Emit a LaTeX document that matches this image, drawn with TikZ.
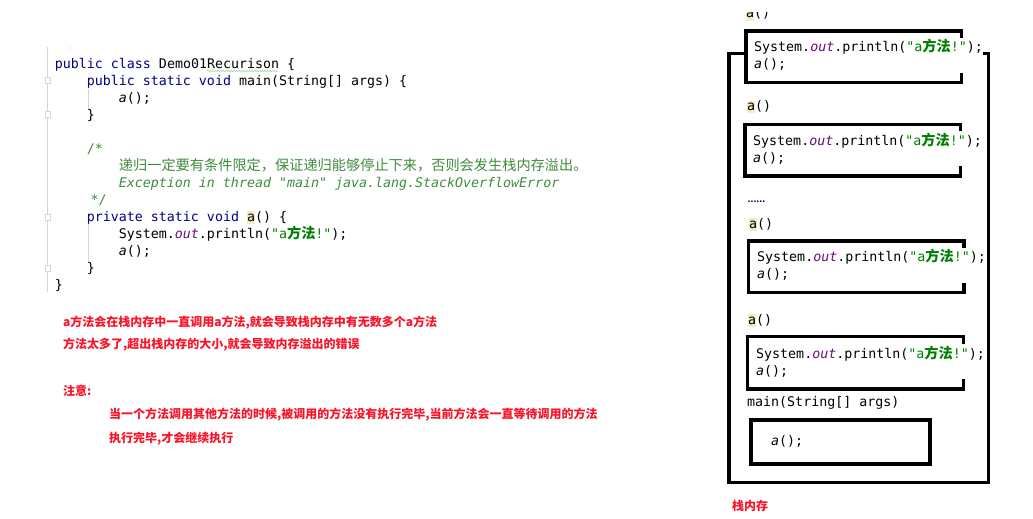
\documentclass[tikz,border=0pt]{standalone}
\usepackage{fontspec}
\usetikzlibrary{decorations.pathmorphing}
\setmonofont{DejaVu Sans Mono}
\newfontfamily\cjk{Noto Sans CJK SC}
\newfontfamily\latinsans{Liberation Sans}
\definecolor{kw}{RGB}{0,0,128}
\definecolor{cmt}{RGB}{63,140,63}
\definecolor{strg}{RGB}{0,128,0}
\definecolor{fld}{RGB}{102,14,122}
\definecolor{hl}{RGB}{245,234,196}
\definecolor{myred}{RGB}{250,20,40}
\definecolor{gut}{RGB}{215,215,215}
\newcommand\codefont{\ttfamily\fontsize{13.3}{17}\selectfont}
\newcommand\kw[1]{\textcolor{kw}{#1}}
\newcommand\cjkstr{\textcolor{strg}{"a{\cjk\bfseries\fontsize{14.2}{17}\selectfont 方法}!"}}
\newcommand\outf{\textcolor{fld}{\itshape out}}
\newcommand\prtln{System.\outf.println(\cjkstr);}
\newcommand\acall{{\itshape a}();}
\newcommand\hla{{\setlength\fboxsep{0pt}\colorbox{hl}{\vphantom{Ag}a}}}
\newcommand\redfont{\cjk\bfseries\fontsize{12}{14}\selectfont}
\begin{document}
\begin{tikzpicture}[x=1pt,y=-1pt,
  code/.style={anchor=base west, inner sep=0pt, font=\codefont},
  boxline/.style={anchor=base west, inner sep=0pt, font=\codefont, text height=14pt, text depth=21pt, fill=white},
  frame/.style={draw=black, line width=3.3pt},
  redtxt/.style={anchor=base west, inner sep=0pt, font=\redfont, text=myred},
  guide/.style={draw=gut, line width=0.8pt}]
\useasboundingbox[fill=white] (0,0) rectangle (1033,519);
% gutter
\draw[guide] (47,47) -- (47,292);
\foreach \y in {80,114,217,268}{
  \draw[gut, fill=white, line width=0.7pt] (45,\y-3) rectangle (50.5,\y+3);
}
\draw[guide] (88,89) -- (88,110);
\draw[guide] (88,224) -- (88,262);
\fill[gray!60] (70,48) circle (0.6);
% code
\node[code] (c1) at (54.7,68) {\kw{public class} Demo01Recurison \{};
\node[code] (c2) at (86.7,85) {\kw{public static void} main(String[] args) \{};
\node[code] (c3) at (118.7,102) {\acall};
\node[code] (c4) at (86.7,119) {\}};
\node[code] (c5) at (86.7,153) {\textcolor{cmt}{/*}};
\node[code] (c6) at (118.7,170) {\cjk\fontsize{14.2}{17}\selectfont\color{cmt}递归一定要有条件限定，保证递归能够停止下来，否则会发生栈内存溢出。};
\node[code] (c7) at (118.7,187) {\color{cmt}\itshape Exception in thread "main" java.lang.StackOverflowError};
\node[code] (c8) at (90.5,204) {\color{cmt}*/};
\node[code] (c9) at (86.7,221) {\kw{private static void} \hla() \{};
\node[code] (c10) at (118.7,238) {\prtln};
\node[code] (c11) at (118.7,255) {\acall};
\node[code] (c12) at (86.7,272) {\}};
\node[code] (c13) at (54.7,289) {\}};
\draw[decorate, decoration={snake, amplitude=0.9pt, segment length=2.6pt}, draw=green!35!gray!60, line width=0.4pt] (207,71) -- (278,71);
% red notes
\node[redtxt] (r1) at (63,326) {a方法会在栈内存中一直调用a方法,就会导致栈内存中有无数多个a方法};
\node[redtxt] (r2) at (63,348) {方法太多了,超出栈内存的大小,就会导致内存溢出的错误};
\node[redtxt] (r3) at (63,395) {注意:};
\node[redtxt] (r4) at (109,418) {当一个方法调用其他方法的时候,被调用的方法没有执行完毕,当前方法会一直等待调用的方法};
\node[redtxt] (r5) at (109,442) {执行完毕,才会继续执行};
\node[redtxt] (r6) at (732,510) {栈内存};
% stack
\draw[frame] (729,53.3) rectangle (988.3,482.7);
\draw[frame, fill=white] (746,31) rectangle (961.7,82.3);
\draw[frame] (745,124.3) rectangle (960.7,176);
\draw[frame] (748.3,241) rectangle (964,292.7);
\draw[frame] (747.3,336.7) rectangle (963.3,389);
\draw[frame] (751,420) rectangle (930,464);
\begin{scope}
\clip (735,13) rectangle (800,30);
\node[code] (la0) at (746,18) {\hla()};
\end{scope}
\node[code] (la1) at (747,110.5) {\hla()};
\node[code] (la2) at (749,228) {\hla()};
\node[code] (la3) at (748,324) {\hla()};
\node[code, font=\latinsans\bfseries\fontsize{10.5}{12}\selectfont, text=kw!70!black] (dots) at (747.5,202) {......};
\node[boxline] (b1a) at (754,51.7) {\prtln};
\node[code] (b1b) at (754,68.7) {\acall};
\node[boxline] (b2a) at (753,145) {\prtln};
\node[code] (b2b) at (753,162) {\acall};
\node[boxline] (b3a) at (757,261.7) {\prtln};
\node[code] (b3b) at (757,278.7) {\acall};
\node[boxline] (b4a) at (756,358) {\prtln};
\node[code] (b4b) at (756,375) {\acall};
\node[code] (mainl) at (747,406) {main(String[] args)};
\node[code] (b5) at (771,445) {\acall};
\end{tikzpicture}
\end{document}
